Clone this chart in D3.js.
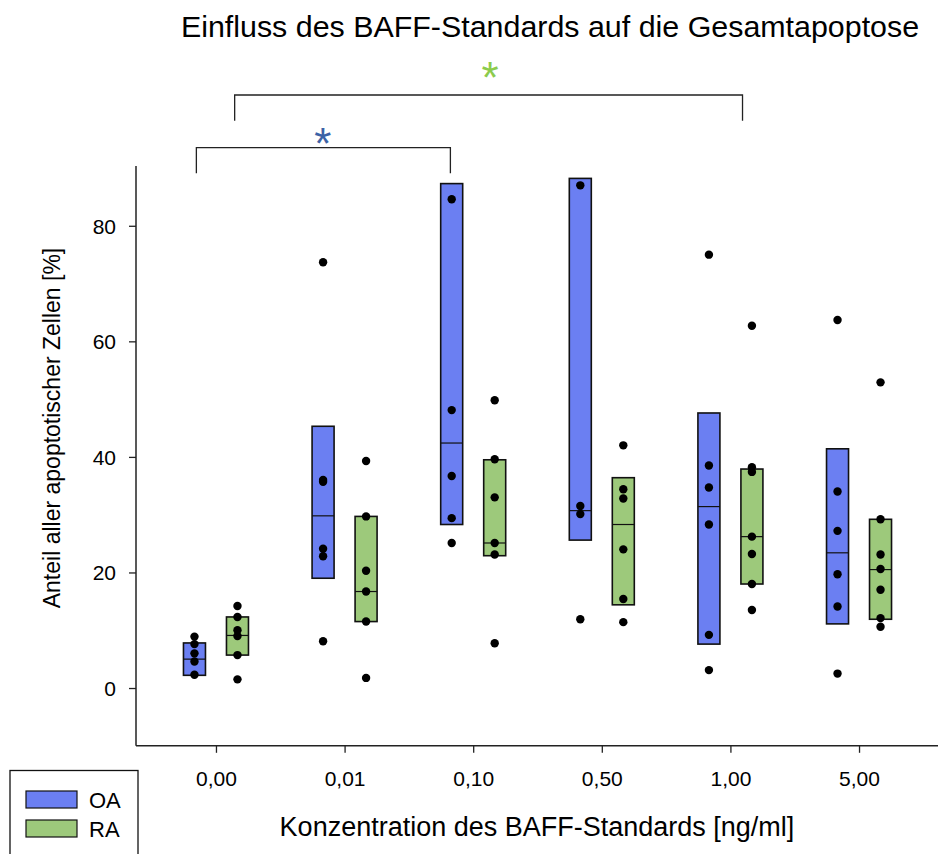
<!DOCTYPE html>
<html><head><meta charset="UTF-8">
<title>BAFF</title>
<script src="https://d3js.org/d3.v7.min.js"></script>
<style>
  body { margin: 0; background: #fff; }
  text { font-family: "Liberation Sans", Arial, sans-serif; fill: #000; }
</style>
</head>
<body>
<svg id="chart" width="938" height="854"></svg>
<script>
// Konzentrationen (x-Kategorien)
var groups = ["0,00", "0,01", "0,10", "0,50", "1,00", "5,00"];
var seriesNames = ["OA", "RA"];
// Box: [25. Perzentil, Median, 75. Perzentil] je Konzentration
var oaBox = [[2.2, 5.0, 7.8], [19.0, 29.8, 45.3], [28.3, 42.4, 87.3], [25.6, 30.7, 88.2], [7.6, 31.4, 47.6], [11.1, 23.4, 41.4]];
var raBox = [[5.7, 9.1, 12.3], [11.5, 16.7, 29.7], [22.9, 25.1, 39.5], [14.4, 28.3, 36.4], [18.0, 26.2, 37.9], [11.9, 20.5, 29.2]];
// Einzelwerte
var oaPoints = [[8.9, 7.6, 6.0, 4.6, 2.3], [73.7, 36.0, 35.7, 24.1, 22.8, 8.1], [84.6, 48.1, 36.7, 29.4, 25.1], [87.0, 31.5, 30.1, 11.9], [75.0, 38.5, 34.7, 28.3, 9.2, 3.1], [63.7, 34.0, 27.2, 19.7, 14.1, 2.5]];
var raPoints = [[14.2, 12.3, 10.0, 9.0, 5.7, 1.5], [39.3, 29.7, 20.3, 16.7, 11.5, 1.75], [49.8, 39.6, 33.0, 25.1, 23.1, 7.75], [42.0, 34.4, 32.8, 24.0, 15.4, 11.4], [62.7, 38.2, 37.4, 26.2, 23.2, 18.0, 13.5], [52.9, 29.2, 23.1, 20.6, 17.0, 12.1, 10.6]];
var yTicks = [0, 20, 40, 60, 80];
// Signifikanzen: Serie, von Gruppe, bis Gruppe
var sigs = [["RA", "0,00", "1,00"], ["OA", "0,00", "0,10"]];

var colors = { OA: "#6b7ff2", RA: "#9dc97b" };
var starColors = { OA: "#3c62a6", RA: "#8ccb4c" };

var svg = d3.select("#chart");

var x = d3.scalePoint().domain(groups).range([137, 938]).padding(0.614);
var y = d3.scaleLinear().domain([-10, 90]).range([745.8, 168]);
var off = { OA: -21.5, RA: 21.5 };
var boxW = 22;

// Achsen
var yAxis = svg.append("g").attr("transform", "translate(136,0)")
  .call(d3.axisLeft(y).tickValues(yTicks).tickSize(7).tickPadding(13).tickSizeOuter(0));
yAxis.select(".domain").attr("d", "M0," + (y(90) - 2) + "V" + y(-10)).attr("stroke", "#222").attr("stroke-width", 1.5);
yAxis.selectAll(".tick line").attr("stroke", "#222").attr("stroke-width", 1.3);
yAxis.selectAll("text").style("font-size", "21px").attr("dy", "0.35em");

var xAxis = svg.append("g").attr("transform", "translate(0," + y(-10) + ")")
  .call(d3.axisBottom(x).tickSize(7).tickPadding(18).tickSizeOuter(0));
xAxis.select(".domain").attr("d", "M136,0H938").attr("stroke", "#222").attr("stroke-width", 1.5);
xAxis.selectAll(".tick line").attr("stroke", "#222").attr("stroke-width", 1.3);
xAxis.selectAll("text").style("font-size", "21px");

// Boxen
var boxes = [];
groups.forEach(function (g, i) {
  boxes.push({ s: "OA", g: g, b: oaBox[i], p: oaPoints[i] });
  boxes.push({ s: "RA", g: g, b: raBox[i], p: raPoints[i] });
});

var bx = svg.append("g").selectAll("g").data(boxes).enter().append("g");
bx.append("rect")
  .attr("x", function (d) { return x(d.g) + off[d.s] - boxW / 2; })
  .attr("y", function (d) { return y(d.b[2]); })
  .attr("width", boxW)
  .attr("height", function (d) { return y(d.b[0]) - y(d.b[2]); })
  .attr("fill", function (d) { return colors[d.s]; })
  .attr("stroke", "#111").attr("stroke-width", 1.6);
bx.append("line")
  .attr("x1", function (d) { return x(d.g) + off[d.s] - boxW / 2; })
  .attr("x2", function (d) { return x(d.g) + off[d.s] + boxW / 2; })
  .attr("y1", function (d) { return y(d.b[1]); })
  .attr("y2", function (d) { return y(d.b[1]); })
  .attr("stroke", "#111").attr("stroke-width", 1.2);
bx.selectAll("circle").data(function (d) {
    return d.p.map(function (v) { return { s: d.s, g: d.g, v: v }; });
  }).enter().append("circle")
  .attr("cx", function (d) { return x(d.g) + off[d.s]; })
  .attr("cy", function (d) { return y(d.v); })
  .attr("r", 4.2)
  .attr("fill", "#000");

// Signifikanzklammern
var sigLayout = [
  { top: 95, leg: 120.7, l: -2.8, r: -9.4, sx: 490, sy: 70 },
  { top: 147.7, leg: 173.3, l: 1.9, r: -1.3, sx: 322.7, sy: 136 }
];
sigs.forEach(function (s, i) {
  var L = sigLayout[i];
  var x1 = x(s[1]) + off[s[0]] + L.l, x2 = x(s[2]) + off[s[0]] + L.r;
  svg.append("path")
    .attr("d", "M" + x1 + "," + L.leg + "V" + L.top + "H" + x2 + "V" + L.leg)
    .attr("fill", "none").attr("stroke", "#222").attr("stroke-width", 1.3);
  svg.append("text").attr("x", L.sx).attr("y", L.sy + 23)
    .attr("text-anchor", "middle")
    .style("font-size", "44px").style("fill", starColors[s[0]])
    .text("*");
});

// Titel und Achsentitel
svg.append("text").attr("x", 550).attr("y", 37).attr("text-anchor", "middle")
  .style("font-size", "30.4px").text("Einfluss des BAFF-Standards auf die Gesamtapoptose");
svg.append("text").attr("x", 537).attr("y", 836).attr("text-anchor", "middle")
  .style("font-size", "27px").text("Konzentration des BAFF-Standards [ng/ml]");
svg.append("text").attr("transform", "translate(60,428) rotate(-90)").attr("text-anchor", "middle")
  .style("font-size", "23px").text("Anteil aller apoptotischer Zellen [%]");

// Legende
var leg = svg.append("g");
leg.append("rect").attr("x", 10).attr("y", 770.5).attr("width", 128).attr("height", 100)
  .attr("fill", "#fff").attr("stroke", "#111").attr("stroke-width", 1.3);
seriesNames.forEach(function (s, i) {
  leg.append("rect").attr("x", 26).attr("y", 791 + i * 29).attr("width", 51).attr("height", 17)
    .attr("fill", colors[s]).attr("stroke", "#111").attr("stroke-width", 1.2);
  leg.append("text").attr("x", 89).attr("y", 808 + i * 29).style("font-size", "22px").text(s);
});
</script>
</body></html>
